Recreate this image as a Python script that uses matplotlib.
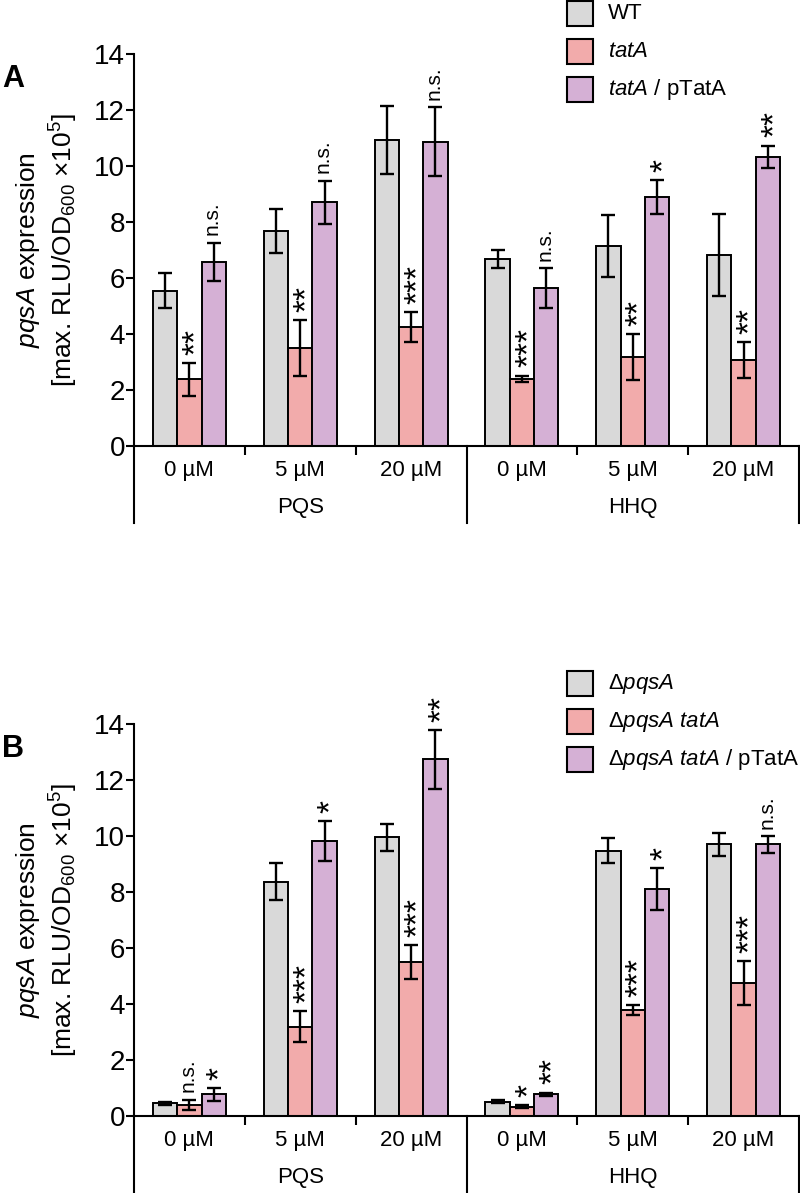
import numpy as np
import matplotlib
matplotlib.use("Agg")
import matplotlib.pyplot as plt
from matplotlib.patches import Rectangle

plt.rcParams['font.family'] = ['Liberation Sans', 'DejaVu Sans']
plt.rcParams['mathtext.fontset'] = 'custom'
plt.rcParams['mathtext.rm'] = 'Liberation Sans'
plt.rcParams['mathtext.it'] = 'Liberation Sans:italic'
plt.rcParams['mathtext.bf'] = 'Liberation Sans:bold'

# categories
doses = ['0 µM', '5 µM', '20 µM', '0 µM', '5 µM', '20 µM']
compounds = ['PQS', 'HHQ']

# panel A values
a_wt = [5.55, 7.69, 10.93, 6.67, 7.14, 6.83]
a_wt_err = [0.62, 0.78, 1.23, 0.33, 1.10, 1.46]
a_tat = [2.38, 3.49, 4.26, 2.39, 3.17, 3.07]
a_tat_err = [0.58, 1.00, 0.53, 0.12, 0.83, 0.65]
a_comp = [6.58, 8.70, 10.87, 5.63, 8.90, 10.33]
a_comp_err = [0.68, 0.78, 1.22, 0.71, 0.60, 0.40]
a_sig_tat = ['**', '**', '***', '***', '**', '**']
a_sig_comp = ['n.s.', 'n.s.', 'n.s.', 'n.s.', '*', '**']

# panel B values
b_pqs = [0.45, 8.37, 9.95, 0.51, 9.48, 9.70]
b_pqs_err = [0.06, 0.67, 0.47, 0.06, 0.46, 0.42]
b_tat = [0.40, 3.19, 5.49, 0.33, 3.78, 4.74]
b_tat_err = [0.17, 0.56, 0.61, 0.06, 0.17, 0.78]
b_comp = [0.77, 9.82, 12.74, 0.77, 8.10, 9.70]
b_comp_err = [0.22, 0.70, 1.05, 0.06, 0.75, 0.29]
b_sig_tat = ['n.s.', '***', '***', '*', '***', '***']
b_sig_comp = ['*', '*', '**', '**', '*', 'n.s.']

labels_a = ['WT', r'$\it{tatA}$', r'$\it{tatA}$ / pTatA']
labels_b = [r'Δ$\it{pqsA}$', r'Δ$\it{pqsA\ tatA}$', r'Δ$\it{pqsA\ tatA}$ / pTatA']

colors = ['#d9d9d9', '#f2abab', '#d5b0d5']

W, H = 800, 1193
fig = plt.figure(figsize=(W / 100, H / 100), dpi=100)


def fx(x):
    return x / W


def fy(y):
    return 1 - y / H


def sig_text(ax, x, top, s):
    # rotated label, anchored at its start just above the error cap
    if s == 'n.s.':
        ax.annotate(s, xy=(x, top), xytext=(-1.0, 5.5), textcoords='offset points',
                    rotation=90, rotation_mode='anchor', ha='left', va='center',
                    fontsize=15)
    else:
        ax.annotate(s, xy=(x, top), xytext=(5.0, 6.0), textcoords='offset points',
                    rotation=90, rotation_mode='anchor', ha='left', va='center',
                    fontsize=24)


def panel(y_top, series, errs, sigs, labels, letter, leg_top):
    y_bot = y_top + 392
    ax = fig.add_axes([fx(134), fy(y_bot), fx(665), 392 / H])
    centers = np.arange(6) + 0.5
    width = 0.22
    offs = [-width, 0, width]
    for k in range(3):
        ax.bar(centers + offs[k], series[k], width=width, color=colors[k],
               edgecolor='black', linewidth=1.4, zorder=2)
        ax.errorbar(centers + offs[k], series[k], yerr=errs[k], fmt='none',
                    ecolor='black', elinewidth=1.7, capsize=4.8, capthick=1.7, zorder=3)
    for k, sig in [(1, sigs[0]), (2, sigs[1])]:
        for i in range(6):
            sig_text(ax, centers[i] + offs[k], series[k][i] + errs[k][i], sig[i])

    ax.set_xlim(0, 6)
    ax.set_ylim(0, 14)
    ax.set_yticks(range(0, 15, 2))
    ax.tick_params(axis='y', labelsize=20, length=5.5, width=1.5, pad=1)
    ax.set_xticks([1, 2, 4, 5])
    ax.set_xticklabels([])
    ax.tick_params(axis='x', length=6.5, width=1.5)
    for s in ['top', 'right']:
        ax.spines[s].set_visible(False)
    for s in ['left', 'bottom']:
        ax.spines[s].set_linewidth(1.5)

    tr = ax.get_xaxis_transform()
    for x in [0, 3, 6]:
        ax.plot([x, x], [0, -77 / 392], transform=tr, clip_on=False,
                color='black', lw=1.5)
    for i in range(6):
        ax.annotate(doses[i], xy=(centers[i], 0), xycoords=tr,
                    xytext=(0, -17.5), textcoords='offset points',
                    ha='center', va='center', fontsize=16)
    for j in range(2):
        ax.annotate(compounds[j], xy=(1.5 + 3 * j, 0), xycoords=tr,
                    xytext=(0, -44), textcoords='offset points',
                    ha='center', va='center', fontsize=16)

    fig.text(fx(2), fy(y_top + 25), letter, fontsize=22, weight='bold',
             ha='left', va='center')
    fig.text(fx(47), fy(y_top + 196),
             r'$\it{pqsA}$ expression' + '\n' + r'[max. RLU/OD$_{600}$ $\times$10$^{5}$]',
             rotation=90, ha='center', va='center', multialignment='center',
             fontsize=19)

    # legend
    for k in range(3):
        yy = leg_top + 38 * k
        fig.add_artist(Rectangle((fx(567), fy(yy + 25)), 26 / W, 25 / H,
                                 transform=fig.transFigure, facecolor=colors[k],
                                 edgecolor='black', linewidth=1.5))
        fig.text(fx(608), fy(yy + 12.5), labels[k], fontsize=16,
                 ha='left', va='center')
    return ax


panel(54, [a_wt, a_tat, a_comp], [a_wt_err, a_tat_err, a_comp_err],
      [a_sig_tat, a_sig_comp], labels_a, 'A', 1)
panel(724, [b_pqs, b_tat, b_comp], [b_pqs_err, b_tat_err, b_comp_err],
      [b_sig_tat, b_sig_comp], labels_b, 'B', 671)

fig.savefig('out.png', dpi=100)
